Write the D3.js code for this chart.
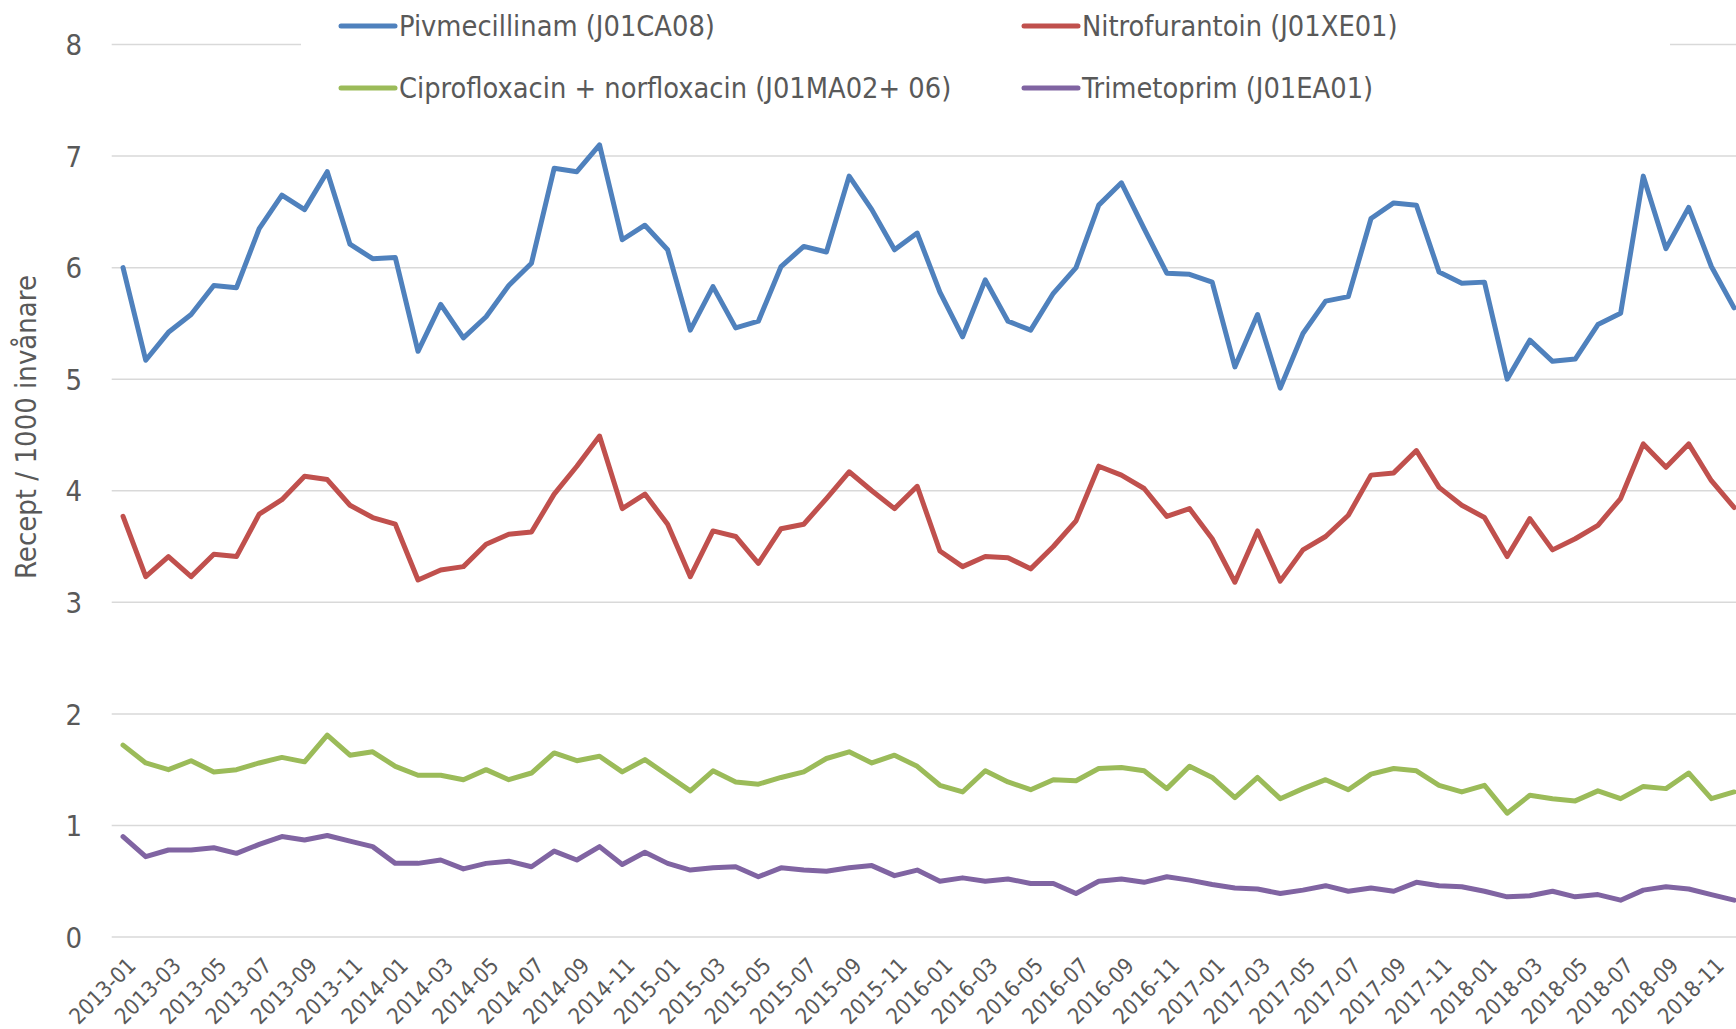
<!DOCTYPE html>
<html>
<head>
<meta charset="utf-8">
<script src="https://cdn.jsdelivr.net/npm/d3@7"></script>
<style>
  body { margin: 0; background: #fff; }
  svg text { font-family: "DejaVu Sans Condensed", "Liberation Sans Narrow", "Noto Sans", sans-serif; fill: #595959; }
</style>
</head>
<body>
<div id="chart"></div>
<script>
var svgWidth = 1736;
var svgHeight = 1029;

// categories
var years = ["2013", "2014", "2015", "2016", "2017", "2018"];
var monthNums = ["01", "02", "03", "04", "05", "06", "07", "08", "09", "10", "11", "12"];
var months = d3.cross(years, monthNums).map(d => d[0] + "-" + d[1]);

var yTicks = [0, 1, 2, 3, 4, 5, 6, 7, 8];

var seriesNames = [
  "Pivmecillinam (J01CA08)",
  "Nitrofurantoin (J01XE01)",
  "Ciprofloxacin + norfloxacin (J01MA02+ 06)",
  "Trimetoprim (J01EA01)"
];

// recept / 1000 invånare, per month 2013-01 .. 2018-12
var pivmecillinam = [
  6.00, 5.17, 5.42, 5.58, 5.84, 5.82, 6.35, 6.65, 6.52, 6.86, 6.21, 6.08,
  6.09, 5.25, 5.67, 5.37, 5.56, 5.84, 6.04, 6.89, 6.86, 7.10, 6.25, 6.38,
  6.16, 5.44, 5.83, 5.46, 5.52, 6.01, 6.19, 6.14, 6.82, 6.52, 6.16, 6.31,
  5.78, 5.38, 5.89, 5.52, 5.44, 5.77, 6.00, 6.56, 6.76, 6.35, 5.95, 5.94,
  5.87, 5.11, 5.58, 4.92, 5.41, 5.70, 5.74, 6.44, 6.58, 6.56, 5.96, 5.86,
  5.87, 5.00, 5.35, 5.16, 5.18, 5.49, 5.59, 6.82, 6.17, 6.54, 6.01, 5.64
];
var nitrofurantoin = [
  3.77, 3.23, 3.41, 3.23, 3.43, 3.41, 3.79, 3.92, 4.13, 4.10, 3.87, 3.76,
  3.70, 3.20, 3.29, 3.32, 3.52, 3.61, 3.63, 3.97, 4.22, 4.49, 3.84, 3.97,
  3.70, 3.23, 3.64, 3.59, 3.35, 3.66, 3.70, 3.93, 4.17, 4.00, 3.84, 4.04,
  3.46, 3.32, 3.41, 3.40, 3.30, 3.50, 3.73, 4.22, 4.14, 4.02, 3.77, 3.84,
  3.57, 3.18, 3.64, 3.19, 3.47, 3.59, 3.78, 4.14, 4.16, 4.36, 4.03, 3.87,
  3.76, 3.41, 3.75, 3.47, 3.57, 3.69, 3.93, 4.42, 4.21, 4.42, 4.09, 3.85
];
var ciprofloxacin = [
  1.72, 1.56, 1.50, 1.58, 1.48, 1.50, 1.56, 1.61, 1.57, 1.81, 1.63, 1.66,
  1.53, 1.45, 1.45, 1.41, 1.50, 1.41, 1.47, 1.65, 1.58, 1.62, 1.48, 1.59,
  1.45, 1.31, 1.49, 1.39, 1.37, 1.43, 1.48, 1.60, 1.66, 1.56, 1.63, 1.53,
  1.36, 1.30, 1.49, 1.39, 1.32, 1.41, 1.40, 1.51, 1.52, 1.49, 1.33, 1.53,
  1.43, 1.25, 1.43, 1.24, 1.33, 1.41, 1.32, 1.46, 1.51, 1.49, 1.36, 1.30,
  1.36, 1.11, 1.27, 1.24, 1.22, 1.31, 1.24, 1.35, 1.33, 1.47, 1.24, 1.30
];
var trimetoprim = [
  0.90, 0.72, 0.78, 0.78, 0.80, 0.75, 0.83, 0.90, 0.87, 0.91, 0.86, 0.81,
  0.66, 0.66, 0.69, 0.61, 0.66, 0.68, 0.63, 0.77, 0.69, 0.81, 0.65, 0.76,
  0.66, 0.60, 0.62, 0.63, 0.54, 0.62, 0.60, 0.59, 0.62, 0.64, 0.55, 0.60,
  0.50, 0.53, 0.50, 0.52, 0.48, 0.48, 0.39, 0.50, 0.52, 0.49, 0.54, 0.51,
  0.47, 0.44, 0.43, 0.39, 0.42, 0.46, 0.41, 0.44, 0.41, 0.49, 0.46, 0.45,
  0.41, 0.36, 0.37, 0.41, 0.36, 0.38, 0.33, 0.42, 0.45, 0.43, 0.38, 0.33
];

var colors = ["#4F81BD", "#C0504D", "#9BBB59", "#8064A2"];
var allSeries = [pivmecillinam, nitrofurantoin, ciprofloxacin, trimetoprim];

var margin = { top: 44.5, left: 111.7 };
var plotBottom = 937;
var plotRight = 1745.4;

var svg = d3.select("#chart")
  .append("svg")
  .attr("width", svgWidth)
  .attr("height", svgHeight);

var xScale = d3.scaleBand()
  .domain(months)
  .range([margin.left, plotRight])
  .padding(0);

var yScale = d3.scaleLinear()
  .domain([0, 8])
  .range([plotBottom, margin.top]);

var cx = d => xScale(d) + xScale.bandwidth() / 2;

// gridlines
svg.append("g")
  .selectAll("line")
  .data(yTicks)
  .enter()
  .append("line")
  .attr("x1", margin.left)
  .attr("x2", plotRight)
  .attr("y1", d => yScale(d))
  .attr("y2", d => yScale(d))
  .attr("stroke", "#D9D9D9")
  .attr("stroke-width", 1.5);

// y tick labels
var yAxis = d3.axisLeft(yScale).tickValues(yTicks).tickSize(0).tickPadding(0);
svg.append("g")
  .attr("transform", "translate(82,0)")
  .call(yAxis)
  .call(g => g.select(".domain").remove())
  .selectAll("text")
  .attr("font-size", 29)
  .attr("dy", "0.35em");

// x tick labels, every second month
var xAxis = d3.axisBottom(xScale)
  .tickValues(months.filter((d, i) => i % 2 === 0))
  .tickSize(0)
  .tickPadding(0);
svg.append("g")
  .attr("transform", `translate(0, ${plotBottom})`)
  .call(xAxis)
  .call(g => g.select(".domain").remove())
  .selectAll("text")
  .attr("font-size", 22)
  .attr("text-anchor", "end")
  .attr("y", 0)
  .attr("dy", 0)
  .attr("transform", "translate(14,30) rotate(-45)");

// y axis title
svg.append("text")
  .attr("transform", "translate(36, 427) rotate(-90)")
  .attr("text-anchor", "middle")
  .attr("font-size", 29)
  .text("Recept / 1000 invånare");

// lines
var line = d3.line()
  .x((d, i) => cx(months[i]))
  .y(d => yScale(d));

svg.append("g")
  .selectAll("path")
  .data(allSeries)
  .enter()
  .append("path")
  .attr("d", d => line(d))
  .attr("fill", "none")
  .attr("stroke", (d, i) => colors[i])
  .attr("stroke-width", 5)
  .attr("stroke-linejoin", "round")
  .attr("stroke-linecap", "round");

// legend
var legendPos = [
  { x: 341, y: 26 }, { x: 1024, y: 26 },
  { x: 341, y: 88 }, { x: 1024, y: 88 }
];

svg.append("rect")
  .attr("x", 301)
  .attr("y", 0)
  .attr("width", 1670 - 301)
  .attr("height", 110)
  .attr("fill", "#fff");

var legend = svg.append("g")
  .selectAll("g")
  .data(seriesNames)
  .enter()
  .append("g")
  .attr("transform", (d, i) => `translate(${legendPos[i].x}, ${legendPos[i].y})`);

legend.append("line")
  .attr("x1", 0)
  .attr("x2", 54)
  .attr("stroke", (d, i) => colors[i])
  .attr("stroke-width", 5)
  .attr("stroke-linecap", "round");

legend.append("text")
  .attr("x", 58)
  .attr("dy", "0.36em")
  .attr("font-size", 28.7)
  .text(d => d);
</script>
</body>
</html>
